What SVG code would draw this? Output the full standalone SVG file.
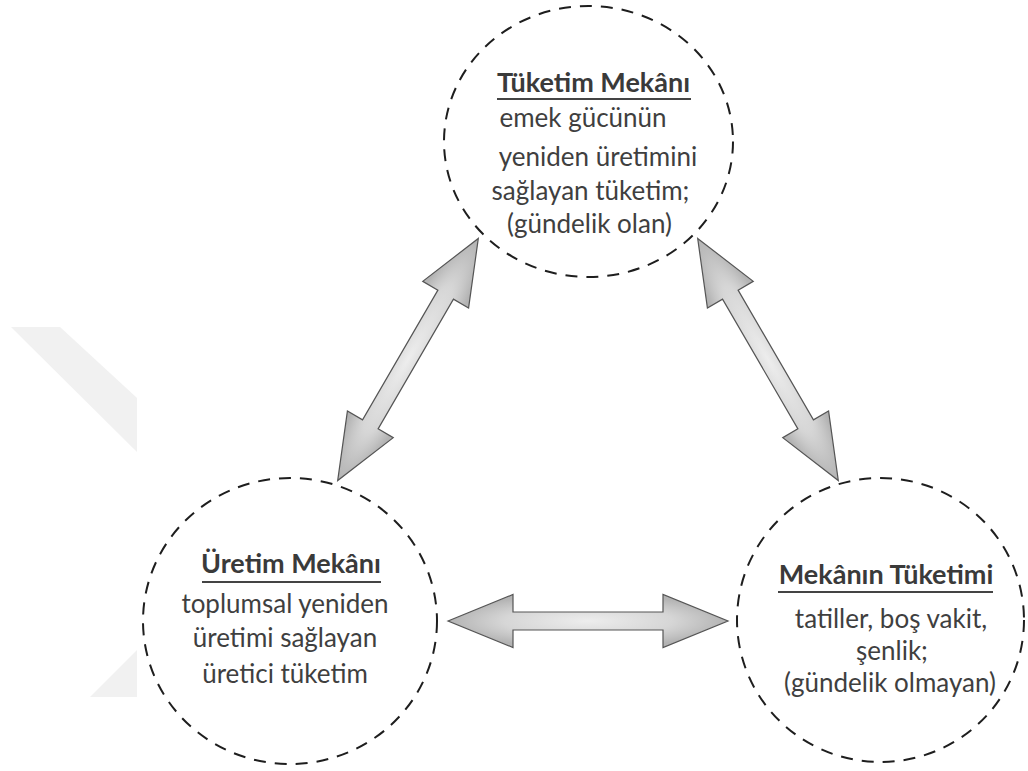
<svg xmlns="http://www.w3.org/2000/svg" width="1028" height="771" viewBox="0 0 1028 771">
  <defs>
    <radialGradient id="arrowGrad" cx="0.5" cy="0.5" r="0.5">
      <stop offset="0" stop-color="#ededed"/>
      <stop offset="0.6" stop-color="#d6d6d6"/>
      <stop offset="1" stop-color="#b3b3b3"/>
    </radialGradient>
    <path id="dblArrow" d="M-140,0 L-75,-26.5 L-75,-9 L75,-9 L75,-26.5 L140,0 L75,26.5 L75,9 L-75,9 L-75,26.5 Z"/>
  </defs>
  <style>
    .ring { fill: none; stroke: #1e1e1e; stroke-width: 2; stroke-dasharray: 12 9; }
    .title { font-family: Lato, "Liberation Sans", sans-serif; font-weight: bold; font-size: 27px; fill: #3a3a3a; text-anchor: middle; }
    .body { font-family: Lato, "Liberation Sans", sans-serif; font-size: 26px; fill: #3f3f3f; text-anchor: middle; }
    .uline { stroke: #444; stroke-width: 2; }
    .arrow { fill: url(#arrowGrad); stroke: #555; stroke-width: 1.2; stroke-linejoin: miter; }
    .wm { fill: #f1f1f1; }
  </style>
  <rect width="1028" height="771" fill="#ffffff"/>

  <g id="watermark">
    <polygon class="wm" points="11,327 60,327 137,398 137,452"/>
    <polygon class="wm" points="137,650 137,697 90,697"/>
  </g>

  <g id="connectors">
    <use href="#dblArrow" class="arrow" transform="translate(408,359.5) rotate(-59.85)"/>
    <use href="#dblArrow" class="arrow" transform="translate(768,359.5) rotate(59.85)"/>
    <use href="#dblArrow" class="arrow" transform="translate(588,621)"/>
  </g>

  <g id="node-tuketim-mekani">
    <ellipse class="ring" cx="588.5" cy="141.5" rx="144.5" ry="135.5"/>
    <text class="title" x="593.5" y="92">Tüketim Mekânı</text>
    <line class="uline" x1="497" y1="99" x2="691" y2="99"/>
    <text class="body" x="583" y="127">emek gücünün</text>
    <text class="body" x="598" y="166">yeniden üretimini</text>
    <text class="body" x="590.5" y="200">sağlayan tüketim;</text>
    <text class="body" x="589.5" y="233">(gündelik olan)</text>
  </g>

  <g id="node-uretim-mekani">
    <ellipse class="ring" cx="290" cy="621" rx="147" ry="143"/>
    <text class="title" x="291" y="573">Üretim Mekânı</text>
    <line class="uline" x1="202" y1="582" x2="381" y2="582"/>
    <text class="body" x="285" y="613">toplumsal yeniden</text>
    <text class="body" x="285" y="647">üretimi sağlayan</text>
    <text class="body" x="285" y="683">üretici tüketim</text>
  </g>

  <g id="node-mekanin-tuketimi">
    <ellipse class="ring" cx="880.5" cy="620" rx="143.5" ry="142"/>
    <text class="title" x="886" y="584">Mekânın Tüketimi</text>
    <line class="uline" x1="778" y1="592" x2="993" y2="592"/>
    <text class="body" x="891" y="628">tatiller, boş vakit,</text>
    <text class="body" x="892" y="660">şenlik;</text>
    <text class="body" x="890" y="692">(gündelik olmayan)</text>
  </g>
</svg>
